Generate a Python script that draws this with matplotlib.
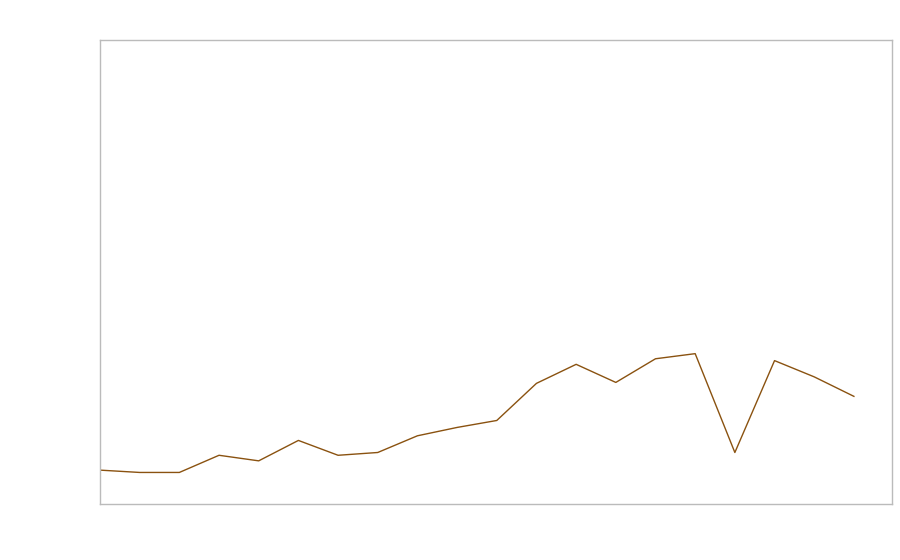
import matplotlib
matplotlib.use("Agg")
import matplotlib.pyplot as plt
import numpy as np

# series values (no axis labels shown, scale 0-100)
periods = list(range(20))
values = [7.3, 6.8, 6.8, 10.5, 9.3, 13.7, 10.5, 11.1, 14.7, 16.5,
          18.0, 26.0, 30.1, 26.2, 31.3, 32.4, 11.1, 30.9, 27.4, 23.2]

fig = plt.figure(figsize=(9, 5.6), dpi=100)
ax = fig.add_axes([0.1111, 0.1, 0.88, 0.8286])
ax.plot(periods, values, color="#8a5210", lw=1.0)
ax.set_xlim(0, 19.96)
ax.set_ylim(0, 100)
ax.set_xticks([])
ax.set_yticks([])
for s in ax.spines.values():
    s.set_color("#bbbbbb")
    s.set_linewidth(1.0)

fig.savefig("out.png", dpi=100)
